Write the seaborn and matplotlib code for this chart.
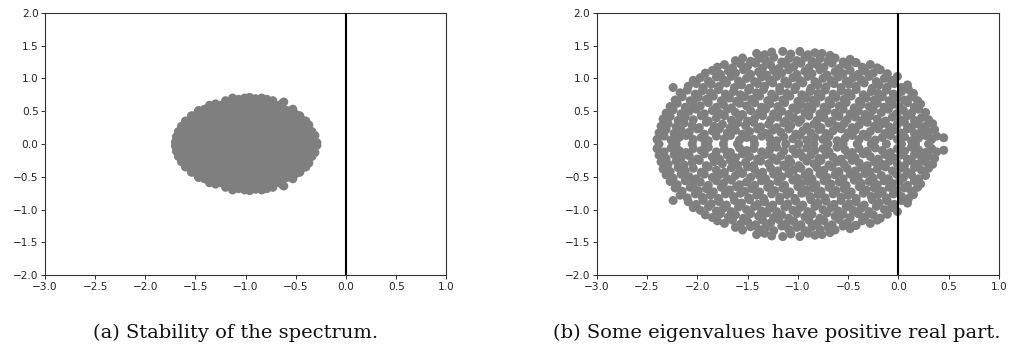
import matplotlib
matplotlib.use("Agg")
import matplotlib.pyplot as plt
import seaborn as sns
import pandas as pd
import numpy as np

# ---------------- data (eigenvalues) ----------------
# Panel (a): eigenvalues with positive imaginary part (conjugates are mirrored)
eig_a_upper = [
    (-1.70,.03),(-1.64,.05),(-1.59,.03),(-1.53,.05),(-1.48,.03),(-1.42,.05),(-1.37,.03),(-1.31,.05),(-1.26,.03),
    (-1.20,.05),(-1.15,.03),(-1.09,.05),(-1.04,.03),(-0.98,.05),(-0.93,.03),(-0.87,.05),(-0.82,.03),(-0.76,.05),
    (-0.71,.03),(-0.65,.05),(-0.60,.03),(-0.54,.05),(-0.49,.03),(-0.43,.05),(-0.38,.03),(-0.32,.05),(-0.29,.02),
    (-1.69,.11),(-1.63,.13),(-1.58,.11),(-1.52,.13),(-1.47,.11),(-1.41,.13),(-1.36,.11),(-1.30,.13),(-1.25,.11),
    (-1.19,.13),(-1.14,.11),(-1.08,.13),(-1.03,.11),(-0.97,.13),(-0.92,.11),(-0.86,.13),(-0.81,.11),(-0.75,.13),
    (-0.70,.11),(-0.64,.13),(-0.59,.11),(-0.53,.13),(-0.48,.11),(-0.42,.13),(-0.37,.11),(-0.31,.13),
    (-1.67,.19),(-1.61,.21),(-1.56,.19),(-1.50,.21),(-1.45,.19),(-1.39,.21),(-1.34,.19),(-1.28,.21),(-1.23,.19),
    (-1.17,.21),(-1.12,.19),(-1.06,.21),(-1.01,.19),(-0.95,.21),(-0.90,.19),(-0.84,.21),(-0.79,.19),(-0.73,.21),
    (-0.68,.19),(-0.62,.21),(-0.57,.19),(-0.51,.21),(-0.46,.19),(-0.40,.21),(-0.34,.19),
    (-1.64,.27),(-1.58,.29),(-1.53,.27),(-1.47,.29),(-1.42,.27),(-1.36,.29),(-1.31,.27),(-1.25,.29),(-1.20,.27),
    (-1.14,.29),(-1.09,.27),(-1.03,.29),(-0.98,.27),(-0.92,.29),(-0.87,.27),(-0.81,.29),(-0.76,.27),(-0.70,.29),
    (-0.65,.27),(-0.59,.29),(-0.54,.27),(-0.48,.29),(-0.43,.27),(-0.37,.29),
    (-1.60,.35),(-1.54,.37),(-1.49,.35),(-1.43,.37),(-1.38,.35),(-1.32,.37),(-1.27,.35),(-1.21,.37),(-1.16,.35),
    (-1.10,.37),(-1.05,.35),(-0.99,.37),(-0.94,.35),(-0.88,.37),(-0.83,.35),(-0.77,.37),(-0.72,.35),(-0.66,.37),
    (-0.61,.35),(-0.55,.37),(-0.50,.35),(-0.44,.37),(-0.40,.35),
    (-1.54,.43),(-1.49,.45),(-1.43,.43),(-1.38,.45),(-1.32,.43),(-1.27,.45),(-1.21,.43),(-1.16,.45),(-1.10,.43),
    (-1.05,.45),(-0.99,.43),(-0.94,.45),(-0.88,.43),(-0.83,.45),(-0.77,.43),(-0.72,.45),(-0.66,.43),(-0.61,.45),
    (-0.55,.43),(-0.50,.45),(-0.46,.43),
    (-1.47,.51),(-1.41,.53),(-1.36,.51),(-1.30,.53),(-1.25,.51),(-1.19,.53),(-1.14,.51),(-1.08,.53),(-1.03,.51),
    (-0.97,.53),(-0.92,.51),(-0.86,.53),(-0.81,.51),(-0.75,.53),(-0.70,.51),(-0.64,.53),(-0.59,.51),(-0.53,.53),
    (-1.36,.59),(-1.30,.61),(-1.25,.59),(-1.19,.61),(-1.14,.59),(-1.08,.61),(-1.03,.59),(-0.97,.61),(-0.92,.59),
    (-0.86,.61),(-0.81,.59),(-0.75,.61),(-0.70,.59),(-0.64,.61),(-0.62,.64),
    (-1.20,.66),(-1.13,.70),(-1.07,.68),(-1.01,.70),(-0.96,.71),(-0.90,.69),(-0.84,.70),(-0.79,.68),(-0.73,.66),
]
eig_a_real = [-1.68, -1.52, -1.33, -1.18, -1.02, -0.86, -0.69, -0.53, -0.36]

# Panel (b): eigenvalues with positive imaginary part (conjugates are mirrored)
eig_b_upper = [
    (-2.40,.07),(-2.33,.12),(-2.26,.06),(-2.18,.10),(-2.11,.13),(-2.04,.07),(-1.96,.10),(-1.89,.05),(-1.81,.12),
    (-1.73,.08),(-1.67,.13),(-1.58,.06),(-1.51,.10),(-1.44,.07),(-1.36,.12),(-1.28,.09),(-1.21,.05),(-1.14,.11),
    (-1.05,.08),(-0.98,.13),(-0.91,.06),(-0.83,.10),(-0.75,.07),(-0.69,.12),(-0.61,.05),(-0.53,.09),(-0.46,.13),
    (-0.39,.07),(-0.31,.11),(-0.23,.06),(-0.16,.10),(-0.08,.13),(-0.01,.07),(0.06,.11),(0.13,.05),(0.20,.09),
    (0.27,.13),(0.33,.07),(0.38,.12),(0.45,.095),
    (-2.38,.17),(-2.31,.22),(-2.23,.16),(-2.16,.21),(-2.08,.18),(-2.00,.23),(-1.93,.15),(-1.85,.20),(-1.78,.23),
    (-1.70,.17),(-1.62,.21),(-1.55,.15),(-1.48,.19),(-1.40,.23),(-1.32,.16),(-1.25,.21),(-1.17,.18),(-1.09,.23),
    (-1.02,.15),(-0.95,.20),(-0.87,.17),(-0.79,.22),(-0.72,.16),(-0.65,.20),(-0.57,.23),(-0.50,.17),(-0.43,.21),
    (-0.35,.15),(-0.28,.19),(-0.20,.23),(-0.13,.16),(-0.05,.21),(0.02,.17),(0.09,.23),(0.16,.16),(0.23,.20),
    (0.30,.18),(0.36,.22),
    (-2.36,.27),(-2.29,.31),(-2.21,.26),(-2.13,.32),(-2.05,.28),(-1.98,.25),(-1.91,.33),(-1.83,.27),(-1.75,.30),
    (-1.67,.25),(-1.60,.32),(-1.52,.28),(-1.44,.33),(-1.37,.26),(-1.29,.30),(-1.21,.25),(-1.14,.32),(-1.07,.28),
    (-0.99,.33),(-0.91,.26),(-0.84,.30),(-0.77,.25),(-0.69,.32),(-0.61,.27),(-0.54,.31),(-0.46,.25),(-0.39,.29),
    (-0.31,.33),(-0.24,.27),(-0.16,.31),(-0.09,.26),(-0.01,.30),(0.06,.33),(0.13,.26),(0.20,.30),(0.27,.27),
    (0.34,.31),
    (-2.34,.38),(-2.27,.42),(-2.19,.36),(-2.12,.41),(-2.04,.37),(-1.96,.43),(-1.89,.35),(-1.81,.40),(-1.73,.43),
    (-1.66,.36),(-1.58,.41),(-1.50,.35),(-1.43,.39),(-1.35,.43),(-1.27,.37),(-1.20,.41),(-1.12,.35),(-1.04,.40),
    (-0.97,.37),(-0.89,.43),(-0.81,.36),(-0.74,.40),(-0.66,.35),(-0.59,.42),(-0.51,.37),(-0.43,.41),(-0.36,.36),
    (-0.28,.43),(-0.21,.38),(-0.13,.35),(-0.06,.41),(0.02,.37),(0.09,.43),(0.16,.36),(0.23,.40),(0.30,.37),
    (-2.31,.47),(-2.24,.52),(-2.16,.46),(-2.08,.50),(-2.01,.53),(-1.93,.46),(-1.85,.51),(-1.78,.47),(-1.70,.53),
    (-1.62,.48),(-1.55,.45),(-1.47,.51),(-1.39,.47),(-1.32,.53),(-1.24,.46),(-1.16,.50),(-1.09,.45),(-1.01,.52),
    (-0.93,.48),(-0.86,.53),(-0.78,.46),(-0.71,.51),(-0.63,.47),(-0.55,.53),(-0.48,.46),(-0.40,.50),(-0.33,.45),
    (-0.25,.52),(-0.17,.48),(-0.10,.53),(-0.02,.46),(0.05,.51),(0.13,.47),(0.20,.53),(0.27,.48),
    (-2.27,.57),(-2.20,.62),(-2.12,.56),(-2.04,.61),(-1.97,.58),(-1.89,.63),(-1.81,.56),(-1.74,.60),(-1.66,.55),
    (-1.58,.62),(-1.51,.58),(-1.43,.63),(-1.36,.56),(-1.28,.61),(-1.20,.57),(-1.13,.63),(-1.05,.55),(-0.97,.60),
    (-0.90,.57),(-0.82,.62),(-0.74,.56),(-0.67,.61),(-0.59,.58),(-0.52,.63),(-0.44,.55),(-0.37,.60),(-0.29,.57),
    (-0.21,.62),(-0.14,.56),(-0.06,.60),(0.01,.57),(0.09,.63),(0.16,.56),(0.22,.61),
    (-2.22,.67),(-2.15,.72),(-2.07,.66),(-1.99,.71),(-1.91,.68),(-1.84,.73),(-1.76,.66),(-1.68,.70),(-1.61,.65),
    (-1.53,.72),(-1.46,.68),(-1.38,.73),(-1.30,.66),(-1.23,.71),(-1.15,.67),(-1.08,.73),(-1.00,.65),(-0.92,.70),
    (-0.85,.67),(-0.77,.72),(-0.69,.66),(-0.62,.71),(-0.54,.68),(-0.47,.73),(-0.39,.65),(-0.32,.70),(-0.24,.67),
    (-0.16,.72),(-0.09,.66),(-0.01,.70),(0.06,.67),(0.13,.72),(0.19,.66),
    (-2.17,.78),(-2.10,.82),(-2.02,.76),(-1.95,.81),(-1.87,.78),(-1.79,.83),(-1.72,.76),(-1.64,.80),(-1.57,.75),
    (-1.49,.82),(-1.41,.78),(-1.34,.83),(-1.26,.76),(-1.18,.81),(-1.11,.77),(-1.03,.83),(-0.96,.75),(-0.88,.80),
    (-0.80,.77),(-0.73,.82),(-0.65,.76),(-0.57,.81),(-0.50,.78),(-0.42,.83),(-0.35,.75),(-0.27,.80),(-0.20,.77),
    (-0.12,.82),(-0.05,.76),(0.03,.80),(0.10,.83),(0.15,.77),
    (-2.24,.86),(-2.09,.88),(-2.01,.92),(-1.94,.86),(-1.86,.91),(-1.78,.88),(-1.71,.93),(-1.63,.86),(-1.56,.90),
    (-1.48,.85),(-1.40,.92),(-1.33,.88),(-1.25,.93),(-1.18,.86),(-1.10,.91),(-1.02,.87),(-0.95,.93),(-0.87,.85),
    (-0.80,.90),(-0.72,.87),(-0.64,.92),(-0.57,.86),(-0.49,.91),(-0.42,.88),(-0.34,.93),(-0.26,.85),(-0.19,.90),
    (-0.11,.87),(-0.04,.92),(0.03,.86),(0.09,.90),
    (-2.04,.97),(-1.97,1.01),(-1.89,.96),(-1.81,1.02),(-1.74,.98),(-1.66,1.03),(-1.59,.96),(-1.51,1.00),(-1.43,.95),
    (-1.36,1.02),(-1.28,.98),(-1.21,1.03),(-1.13,.96),(-1.05,1.01),(-0.98,.97),(-0.90,1.03),(-0.83,.95),(-0.75,1.00),
    (-0.67,.97),(-0.60,1.02),(-0.52,.96),(-0.45,1.01),(-0.37,.98),(-0.29,1.03),(-0.22,.95),(-0.14,1.00),(-0.07,.97),
    (-0.01,1.03),
    (-1.92,1.08),(-1.85,1.12),(-1.77,1.06),(-1.69,1.11),(-1.62,1.08),(-1.54,1.13),(-1.47,1.06),(-1.39,1.10),
    (-1.31,1.05),(-1.24,1.12),(-1.16,1.08),(-1.09,1.13),(-1.01,1.06),(-0.93,1.11),(-0.86,1.07),(-0.78,1.13),
    (-0.71,1.05),(-0.63,1.10),(-0.55,1.07),(-0.48,1.12),(-0.40,1.06),(-0.33,1.11),(-0.25,1.08),(-0.18,1.13),
    (-0.11,1.07),
    (-1.80,1.17),(-1.73,1.21),(-1.65,1.16),(-1.57,1.22),(-1.50,1.18),(-1.42,1.23),(-1.35,1.16),(-1.27,1.20),
    (-1.19,1.15),(-1.12,1.22),(-1.04,1.18),(-0.97,1.23),(-0.89,1.16),(-0.81,1.21),(-0.74,1.17),(-0.66,1.23),
    (-0.59,1.15),(-0.51,1.20),(-0.43,1.24),(-0.36,1.17),(-0.28,1.21),(-0.21,1.16),
    (-1.62,1.27),(-1.55,1.31),(-1.47,1.26),(-1.39,1.30),(-1.32,1.27),(-1.24,1.32),(-1.16,1.25),(-1.09,1.30),
    (-1.01,1.27),(-0.93,1.32),(-0.86,1.26),(-0.78,1.30),(-0.70,1.27),(-0.63,1.31),(-0.55,1.25),(-0.48,1.29),
    (-0.42,1.24),
    (-1.41,1.38),(-1.33,1.36),(-1.26,1.40),(-1.15,1.41),(-1.07,1.37),(-0.98,1.41),(-0.90,1.36),(-0.83,1.39),
    (-0.76,1.38),(-0.68,1.35),
]
eig_b_real = [-2.38, -2.21, -2.05, -1.92, -1.74, -1.60, -1.43, -1.27, -1.12, -0.99,
              -0.84, -0.70, -0.55, -0.41, -0.27, -0.12, 0.03, 0.17, 0.30]

captions = ["(a) Stability of the spectrum.", "(b) Some eigenvalues have positive real part."]
x_ticks = [-3.0, -2.5, -2.0, -1.5, -1.0, -0.5, 0.0, 0.5, 1.0]
y_ticks = [-2.0, -1.5, -1.0, -0.5, 0.0, 0.5, 1.0, 1.5, 2.0]


def spectrum_frame(upper, real):
    re = [p[0] for p in upper] + [p[0] for p in upper] + list(real)
    im = [p[1] for p in upper] + [-p[1] for p in upper] + [0.0] * len(real)
    return pd.DataFrame({"re": re, "im": im})


df_a = spectrum_frame(eig_a_upper, eig_a_real)
df_b = spectrum_frame(eig_b_upper, eig_b_real)

# ---------------- style ----------------
sns.set_theme(style="ticks", rc={
    "axes.edgecolor": "#333333",
    "axes.linewidth": 0.8,
    "xtick.color": "#333333",
    "ytick.color": "#333333",
    "xtick.labelcolor": "#262626",
    "ytick.labelcolor": "#262626",
    "xtick.major.size": 2.6,
    "ytick.major.size": 2.6,
    "xtick.major.width": 0.7,
    "ytick.major.width": 0.7,
    "xtick.major.pad": 2.0,
    "ytick.major.pad": 2.0,
    "xtick.labelsize": 7.6,
    "ytick.labelsize": 7.6,
})
plt.rcParams["font.family"] = ["DejaVu Sans"]

W, H = 1010, 348
fig = plt.figure(figsize=(W / 100, H / 100), dpi=100)
ax_a = fig.add_axes([45 / W, 1 - 275.3 / H, (446.3 - 45) / W, (275.3 - 12.7) / H])
ax_b = fig.add_axes([596.7 / W, 1 - 275.3 / H, (999.0 - 596.7) / W, (275.3 - 12.7) / H])

for ax, df in ((ax_a, df_a), (ax_b, df_b)):
    sns.scatterplot(data=df, x="re", y="im", ax=ax, color="#7f7f7f", s=42,
                    edgecolor="none", linewidth=0, legend=False, zorder=2)
    ax.axvline(0.0, color="black", lw=1.5, zorder=3)
    ax.set_xlim(-3, 1)
    ax.set_ylim(-2, 2)
    ax.set_xticks(x_ticks)
    ax.set_yticks(y_ticks)
    ax.set_xticklabels([f"{v:.1f}".replace("-", "\u2212") for v in x_ticks])
    ax.set_yticklabels([f"{v:.1f}".replace("-", "\u2212") for v in y_ticks])
    ax.set_xlabel("")
    ax.set_ylabel("")
    for sp in ax.spines.values():
        sp.set_visible(True)

fig.text(93 / W, 1 - 338 / H, captions[0], ha="left", va="baseline",
         family=["DejaVu Serif"], fontsize=14.0, color="#111111")
fig.text(553 / W, 1 - 338 / H, captions[1], ha="left", va="baseline",
         family=["DejaVu Serif"], fontsize=14.0, color="#111111")

fig.savefig("out.png", dpi=100)
